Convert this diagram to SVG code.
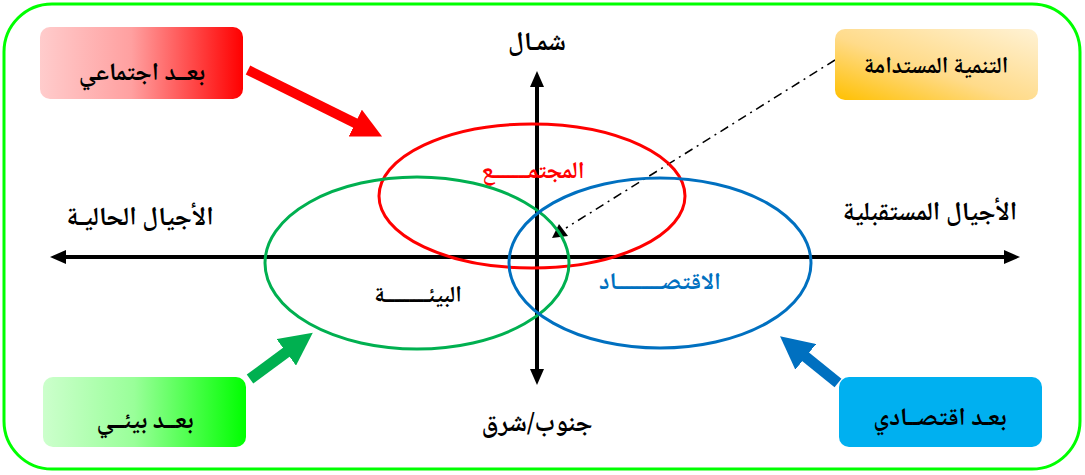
<svg xmlns="http://www.w3.org/2000/svg" width="1085" height="475" viewBox="0 0 1085 475">
<defs>
<linearGradient id="gRed" x1="0" y1="0" x2="1" y2="0"><stop offset="0" stop-color="#ffcccc"/><stop offset="0.45" stop-color="#ffa0a0"/><stop offset="1" stop-color="#ff0000"/></linearGradient>
<linearGradient id="gGreen" x1="0" y1="0" x2="1" y2="0"><stop offset="0" stop-color="#ccffcc"/><stop offset="0.45" stop-color="#99ff99"/><stop offset="1" stop-color="#00ff00"/></linearGradient>
<linearGradient id="gOrange" x1="1" y1="0" x2="0" y2="1"><stop offset="0" stop-color="#fff2d5"/><stop offset="0.55" stop-color="#ffdb8a"/><stop offset="1" stop-color="#ffc000"/></linearGradient>
<marker id="ah" viewBox="0 0 4 3.5" refX="0.5" refY="1.75" markerWidth="4" markerHeight="3.5" markerUnits="strokeWidth" orient="auto-start-reverse"><path d="M0,0 L4,1.75 L0,3.5 z" fill="#000"/></marker>
<marker id="bigR" viewBox="0 0 3 3" refX="0.2" refY="1.5" markerWidth="3" markerHeight="3" markerUnits="strokeWidth" orient="auto"><path d="M0,0 L3,1.5 L0,3 z" fill="#ff0000"/></marker>
<marker id="bigG" viewBox="0 0 3 3" refX="0.2" refY="1.5" markerWidth="3" markerHeight="3" markerUnits="strokeWidth" orient="auto"><path d="M0,0 L3,1.5 L0,3 z" fill="#00b050"/></marker>
<marker id="bigB" viewBox="0 0 3 3" refX="0.2" refY="1.5" markerWidth="3" markerHeight="3" markerUnits="strokeWidth" orient="auto"><path d="M0,0 L3,1.5 L0,3 z" fill="#0070c0"/></marker>
</defs>
<style>
text{font-family:"Noto Naskh Arabic","DejaVu Sans",sans-serif;font-weight:bold;text-anchor:middle;direction:rtl}
.lbl{font-size:25px;fill:#000}
.box{stroke:none}
.ell{fill:none;stroke-width:3}
.axis{stroke:#000;stroke-width:4;fill:none}
</style>
<rect x="4" y="4" width="1076" height="465" rx="48" ry="48" fill="#fff" stroke="#00ff00" stroke-width="3"/>

<g id="connectors">
<line class="axis" x1="64" y1="257" x2="1006" y2="257" marker-start="url(#ah)" marker-end="url(#ah)"/>
<line class="axis" x1="537" y1="85" x2="537" y2="371" marker-start="url(#ah)" marker-end="url(#ah)"/>
<line x1="248" y1="70" x2="357" y2="124" stroke="#ff0000" stroke-width="10" marker-end="url(#bigR)"/>
<line x1="250" y1="379" x2="288" y2="351" stroke="#00b050" stroke-width="11" marker-end="url(#bigG)"/>
<line x1="838" y1="383" x2="804" y2="355.5" stroke="#0070c0" stroke-width="11" marker-end="url(#bigB)"/>
<line x1="835" y1="60" x2="566" y2="228" stroke="#000" stroke-width="1.5" stroke-dasharray="9,5,2,5"/>
<path d="M552,238 L559,224 L568,236 z" fill="#000"/>
</g>

<g id="ellipse-society"><ellipse class="ell" cx="532" cy="196" rx="153" ry="72" stroke="#ff0000"/></g>
<g id="ellipse-environment"><ellipse class="ell" cx="417" cy="263" rx="152" ry="86" stroke="#00b050"/></g>
<g id="ellipse-economy"><ellipse class="ell" cx="660" cy="263" rx="151" ry="85" stroke="#0070c0"/></g>

<g id="box-social"><rect class="box" x="40" y="27" width="203" height="72" rx="10" fill="url(#gRed)"/><text class="lbl" x="142" y="80">بعــد اجتماعي</text></g>
<g id="box-sustainable"><rect class="box" x="835" y="29" width="203" height="71" rx="10" fill="url(#gOrange)"/><text class="lbl" x="936" y="73" style="font-size:23px">التنمية المستدامة</text></g>
<g id="box-environmental"><rect class="box" x="43" y="377" width="203" height="70" rx="10" fill="url(#gGreen)"/><text class="lbl" x="145" y="428">بعــد بيئــي</text></g>
<g id="box-economic"><rect class="box" x="839" y="377" width="203" height="70" rx="10" fill="#00b0f0"/><text class="lbl" x="940" y="425">بعـد اقتصــادي</text></g>

<g id="labels">
<text class="lbl" x="537" y="50" style="font-size:26px">شمـال</text>
<text class="lbl" x="537" y="431" style="font-size:26px">جنوب/شرق</text>
<text class="lbl" x="140" y="225" style="font-size:26px">الأجيال الحاليـة</text>
<text class="lbl" x="930" y="220" style="font-size:26px">الأجيال المستقبلية</text>
<text x="533" y="178" style="font-size:24px;fill:#ff0000">المجتمـــــــع</text>
<text x="418" y="302" style="font-size:23px;fill:#000">البيئـــــــــة</text>
<text x="660" y="289" style="font-size:24px;fill:#0070c0">الاقتصـــــــــاد</text>
</g>
</svg>
